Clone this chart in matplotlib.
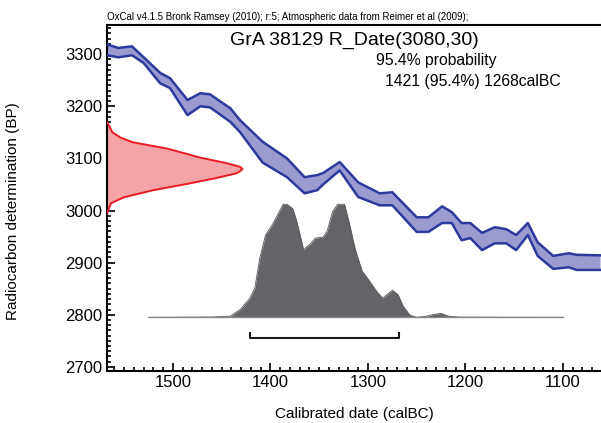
import numpy as np
import matplotlib
matplotlib.use('Agg')
import matplotlib.pyplot as plt
from matplotlib.ticker import MultipleLocator

plt.rcParams['font.family'] = ['Liberation Sans', 'DejaVu Sans']

# calibration curve band (calBC, upper / lower BP)
cal_year = [1568, 1556, 1542, 1530, 1513, 1503, 1485, 1472, 1462, 1441, 1431,
            1408, 1383, 1365, 1352, 1346, 1329, 1310, 1288, 1275, 1250, 1238,
            1224, 1214, 1204, 1195, 1183, 1170, 1158, 1148, 1136, 1126, 1110,
            1094, 1086, 1062]
cal_upper = [3319, 3312, 3315, 3294, 3264, 3254, 3212, 3225, 3223, 3196, 3173,
             3132, 3100, 3064, 3068, 3072, 3093, 3054, 3033, 3035, 2987, 2987,
             3008, 2997, 2976, 2976, 2957, 2968, 2964, 2953, 2976, 2939, 2913,
             2918, 2915, 2914]
cal_lower = [3298, 3294, 3298, 3283, 3244, 3235, 3183, 3200, 3198, 3170, 3150,
             3092, 3064, 3033, 3039, 3050, 3077, 3026, 3010, 3010, 2959, 2959,
             2976, 2976, 2943, 2947, 2924, 2937, 2937, 2924, 2953, 2913, 2888,
             2891, 2886, 2886]

# radiocarbon date R_Date(3080,30), relative density along BP
rc_bp = [3170, 3150, 3140, 3131, 3119, 3110, 3102, 3091, 3084, 3080, 3075,
         3071, 3062, 3050, 3039, 3025, 3014, 2995]
rc_dens = [0, 0.04, 0.10, 0.19, 0.44, 0.57, 0.68, 0.88, 0.98, 1.0, 0.98,
           0.95, 0.80, 0.57, 0.34, 0.12, 0.03, 0]

# calibrated distribution, relative probability
post_year = [1525, 1460, 1441, 1431, 1421, 1416, 1411, 1405, 1398, 1387, 1383,
             1377, 1373, 1366, 1359, 1354, 1346, 1342, 1336, 1331, 1324, 1319,
             1313, 1306, 1300, 1291, 1285, 1275, 1269, 1264, 1257, 1250, 1240,
             1233, 1225, 1217, 1205, 1100]
post_prob = [0, 0.003, 0.01, 0.07, 0.17, 0.26, 0.52, 0.73, 0.82, 1.0, 1.0,
             0.96, 0.85, 0.60, 0.65, 0.70, 0.71, 0.76, 0.94, 1.0, 1.0, 0.83,
             0.60, 0.41, 0.34, 0.23, 0.17, 0.24, 0.20, 0.10, 0.02, 0.0, 0.01,
             0.025, 0.035, 0.01, 0.002, 0]

range_95 = (1421, 1268)

xmin, xmax = 1567.6, 1061
ymin, ymax = 2693, 3356

fig = plt.figure(figsize=(6.01, 4.23), dpi=100)
ax = fig.add_axes([107/601, 52.5/423, 494/601, 345.5/423])

# calibration curve
ax.fill_between(cal_year, cal_lower, cal_upper, color='#9b9bd2', lw=0, zorder=2)
ax.plot(cal_year, cal_upper, color='#2c3a9e', lw=1.8, zorder=3)
ax.plot(cal_year, cal_lower, color='#2c3a9e', lw=1.8, zorder=3)

# radiocarbon date on the y axis
rc_x = xmin - 139 * np.array(rc_dens)
ax.fill_betweenx(rc_bp, xmin, rc_x, color='#f4a3a6', lw=0, zorder=2)
ax.plot(rc_x, rc_bp, color='#ec1c24', lw=1.4, zorder=3)

# calibrated date distribution
base = 2795
post_y = base + 217 * np.array(post_prob)
ax.fill_between(post_year, base, post_y, color='#636467', lw=0, zorder=2)
ax.plot(post_year, post_y, color='#55565a', lw=0.6, zorder=2)
ax.plot([post_year[0], post_year[-1]], [base, base], color='#8a8a8a', lw=1.0, zorder=2)

# 95.4% range bracket
ax.plot([range_95[0], range_95[0], range_95[1], range_95[1]],
        [2765, 2756, 2756, 2765], color='#1a1a1a', lw=1.5, zorder=3)

ax.set_xlim(xmin, xmax)
ax.set_ylim(ymin, ymax)
ax.xaxis.set_major_locator(MultipleLocator(100))
ax.xaxis.set_minor_locator(MultipleLocator(10))
ax.yaxis.set_major_locator(MultipleLocator(100))
ax.yaxis.set_minor_locator(MultipleLocator(10))
ax.tick_params(which='both', direction='in', width=1.2, labelsize=12, color='black')
ax.tick_params(which='major', length=6, pad=3.5)
ax.tick_params(which='minor', length=3)
for s in ['left', 'bottom', 'top']:
    ax.spines[s].set_linewidth(1.5)
ax.spines['right'].set_visible(False)

ax.set_xlabel('Calibrated date (calBC)', fontsize=11, labelpad=12)
ax.set_ylabel('Radiocarbon determination (BP)', fontsize=11)
ax.yaxis.set_label_coords(-0.176, 0.46)

ax.text(0.0, 1.01, 'OxCal v4.1.5 Bronk Ramsey (2010); r:5; Atmospheric data from Reimer et al (2009);',
        transform=ax.transAxes, fontsize=7.0, ha='left', va='bottom',
        family=['Liberation Sans Narrow', 'Liberation Sans'])
ax.text(0.50, 0.955, 'GrA 38129 R_Date(3080,30)', transform=ax.transAxes,
        fontsize=14, ha='center', va='center')
ax.text(0.545, 0.897, '95.4% probability', transform=ax.transAxes,
        fontsize=11.3, ha='left', va='center')
ax.text(0.563, 0.837, '1421 (95.4%) 1268calBC', transform=ax.transAxes,
        fontsize=11.3, ha='left', va='center')

fig.savefig('out.png', dpi=100)
